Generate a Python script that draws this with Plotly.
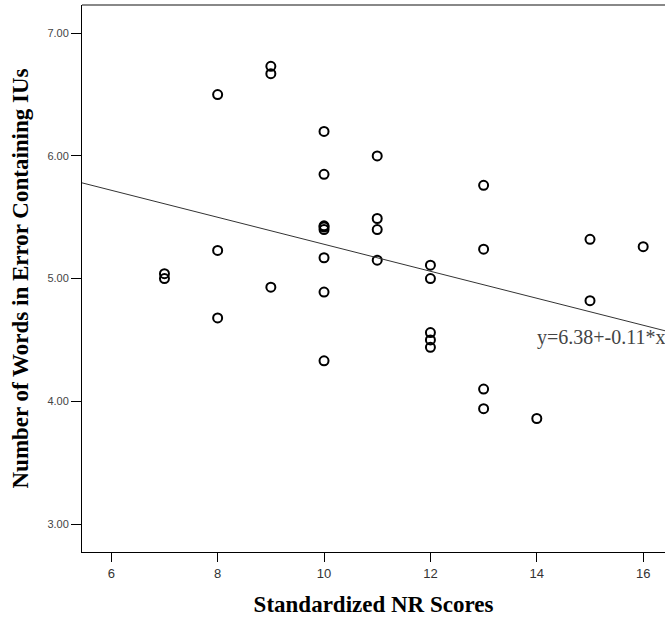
import plotly.graph_objects as go

# Data
nr_scores = [7, 7,
             8, 8, 8,
             9, 9, 9,
             10, 10, 10, 10, 10, 10, 10, 10,
             11, 11, 11, 11,
             12, 12, 12, 12, 12,
             13, 13, 13, 13,
             14,
             15, 15,
             16]
words_in_error = [5.04, 5.00,
                  6.50, 5.23, 4.68,
                  6.73, 6.67, 4.93,
                  6.20, 5.85, 5.43, 5.42, 5.40, 5.17, 4.89, 4.33,
                  6.00, 5.49, 5.40, 5.15,
                  5.11, 5.00, 4.56, 4.50, 4.44,
                  5.76, 5.24, 4.10, 3.94,
                  3.86,
                  5.32, 4.82,
                  5.26]

fit_intercept = 6.38
fit_slope = -0.11
fit_label = "y=6.38+-0.11*x"

x_tickvals = [6, 8, 10, 12, 14, 16]
y_tickvals = [3, 4, 5, 6, 7]
x_range = [5.45, 16.41]
y_range = [2.772, 7.23]

x_title = "Standardized NR Scores"
y_title = "Number of Words in Error Containing IUs"

fig = go.Figure()

fig.add_trace(go.Scatter(
    x=nr_scores, y=words_in_error, mode="markers",
    marker=dict(symbol="circle-open", size=9, color="black",
                line=dict(color="black", width=2)),
    hoverinfo="x+y", showlegend=False,
))

line_x = [x_range[0], x_range[1]]
line_y = [fit_intercept + fit_slope * v for v in line_x]
fig.add_trace(go.Scatter(
    x=line_x, y=line_y, mode="lines",
    line=dict(color="#333333", width=1), showlegend=False, hoverinfo="skip",
))

fig.add_annotation(
    x=13.965, y=4.52, xref="x", yref="y", text=fit_label, showarrow=False,
    xanchor="left", yanchor="middle",
    font=dict(family="Liberation Serif", size=20, color="#444444"),
)

fig.add_shape(type="line", xref="paper", yref="paper", x0=0, x1=1, y0=1, y1=1,
              line=dict(color="#888888", width=2))

fig.update_layout(
    width=665, height=619,
    margin=dict(l=82, r=0, t=5, b=67),
    plot_bgcolor="white", paper_bgcolor="white",
    showlegend=False,
)

fig.update_xaxes(
    range=x_range, tickvals=x_tickvals, ticktext=[str(v) for v in x_tickvals],
    showline=True, linecolor="black", linewidth=1, mirror=False,
    ticks="outside", ticklen=9, tickcolor="black", tickwidth=1,
    showgrid=False, zeroline=False,
    tickfont=dict(family="Liberation Sans", size=13, color="#333333"),
    title=dict(text="<b>" + x_title + "</b>", standoff=16,
               font=dict(family="Liberation Serif", size=23, color="black")),
)

fig.update_yaxes(
    range=y_range, tickvals=y_tickvals, ticktext=["%.2f" % v for v in y_tickvals],
    showline=True, linecolor="black", linewidth=1, mirror=False,
    ticks="outside", ticklen=10, tickcolor="black", tickwidth=1,
    showgrid=False, zeroline=False,
    tickfont=dict(family="Liberation Sans", size=11, color="#444444"),
    title=dict(text="<b>" + y_title + "</b>", standoff=12,
               font=dict(family="Liberation Serif", size=23, color="black")),
)

fig.write_html(
    "out.html",
    config={"displayModeBar": False},
    post_script="document.body.style.margin='0';document.body.style.overflow='hidden';",
)
